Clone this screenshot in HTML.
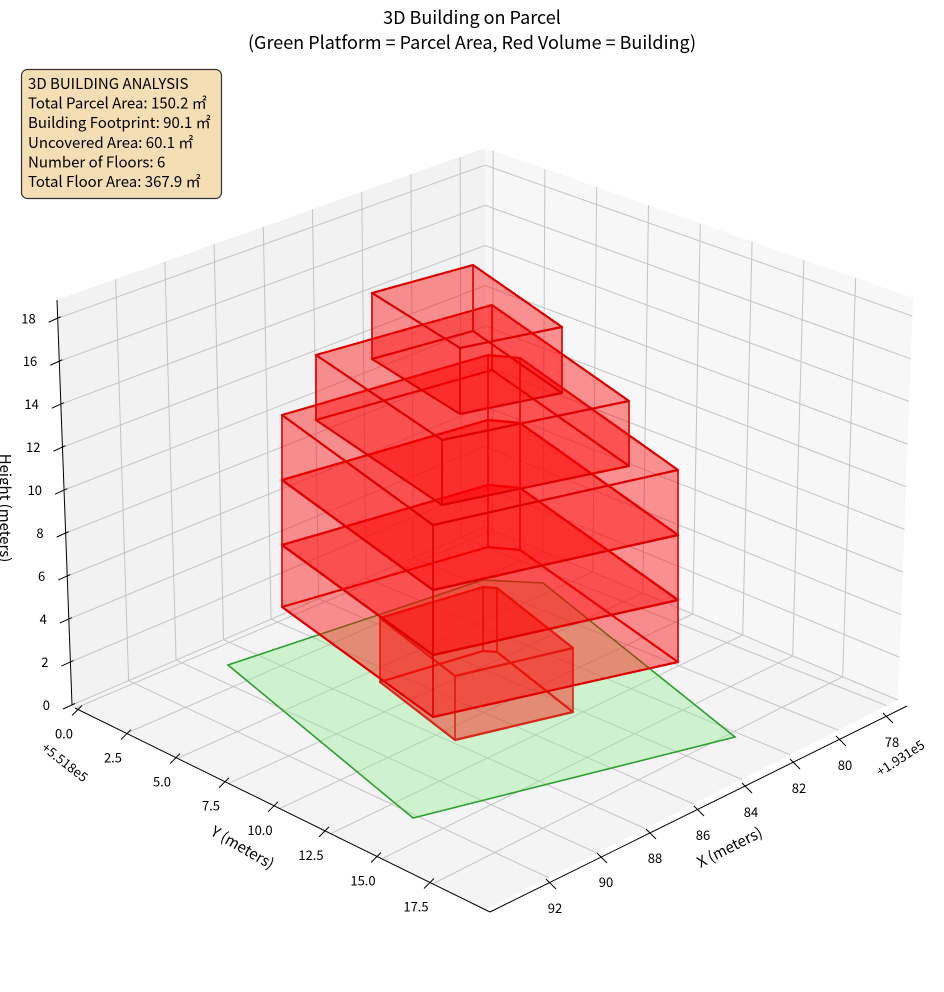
<!DOCTYPE html>
<html><head><meta charset="utf-8">
<style>
html,body{margin:0;padding:0;background:#fff;}
svg{display:block;font-family:"Noto Sans CJK JP","Liberation Sans",sans-serif;}
</style></head>
<body>
<svg id="c" width="944" height="992" viewBox="0 0 944 992" xmlns="http://www.w3.org/2000/svg">
<rect width="944" height="992" fill="#fff"/>
<g id="panes"></g>
<g id="grid" stroke="#c4c4c4" stroke-width="1" fill="none"></g>
<g id="axes" stroke="#000" stroke-width="1" fill="none"></g>
<g id="labels" font-size="13" fill="#000"></g>
<polygon points="228,665 483,580 543,583 735,737 413,818" fill="#90ee90" fill-opacity="0.38" stroke="#2ca02c" stroke-width="1.6"/>
<g id="bld"></g>
<text x="472" y="24" font-size="18" text-anchor="middle">3D Building on Parcel</text>
<text x="472" y="49" font-size="18" text-anchor="middle">(Green Platform = Parcel Area, Red Volume = Building)</text>
<rect x="21.5" y="69.5" width="200" height="129" rx="6" fill="#f5deb3" stroke="#333" stroke-width="1.2"/>
<g font-size="15" fill="#000">
<text x="28" y="89">3D BUILDING ANALYSIS</text>
<text x="28" y="108.6">Total Parcel Area: 150.2 ㎡</text>
<text x="28" y="128.2">Building Footprint: 90.1 ㎡</text>
<text x="28" y="147.8">Uncovered Area: 60.1 ㎡</text>
<text x="28" y="167.4">Number of Floors: 6</text>
<text x="28" y="187">Total Floor Area: 367.9 ㎡</text>
</g>
<text transform="translate(0,508) rotate(90)" font-size="15" text-anchor="middle">Height (meters)</text>
<text transform="translate(240,852) rotate(30)" font-size="15" text-anchor="middle">Y (meters)</text>
<text transform="translate(732,852) rotate(-27)" font-size="15" text-anchor="middle">X (meters)</text>
<text transform="translate(62,766) rotate(38)" font-size="13" text-anchor="middle">+5.518e5</text>
<text transform="translate(903,762) rotate(-33)" font-size="13" text-anchor="middle">+1.931e5</text>
</svg>
<script>
(function(){
var NS="http://www.w3.org/2000/svg";
var B=[485,527],L=[72,705],R=[898,700],F=[485,910];
function bil(b,r,l,f,s,t){return b*(1-s)*(1-t)+r*s*(1-t)+l*(1-s)*t+f*s*t;}
function P(s,t,h){
 var bx=bil(B[0],R[0],L[0],F[0],s,t), by=bil(B[1],R[1],L[1],F[1],s,t);
 var H=bil(379,402,405,430,s,t), dx=bil(0,15,-15,0,s,t);
 return [bx+h*dx, by-h*H];
}
function el(tag,attrs,parent,txt){var e=document.createElementNS(NS,tag);for(var k in attrs)e.setAttribute(k,attrs[k]);if(txt!=null)e.textContent=txt;parent.appendChild(e);return e;}
function pts(a){return a.map(function(p){return p[0].toFixed(1)+","+p[1].toFixed(1);}).join(" ");}
var panes=document.getElementById("panes"),grid=document.getElementById("grid"),axes=document.getElementById("axes"),labels=document.getElementById("labels");
el("polygon",{points:pts([P(0,0,0),P(0,1,0),P(0,1,1),P(0,0,1)]),fill:"#f2f2f2"},panes);
el("polygon",{points:pts([P(0,0,0),P(1,0,0),P(1,0,1),P(0,0,1)]),fill:"#f7f7f7"},panes);
el("polygon",{points:pts([P(0,0,0),P(0,1,0),P(1,1,0),P(1,0,0)]),fill:"#f4f4f4"},panes);
function tk(k,s){return (0.058+0.115*k)*(1-s)+(0.027+0.117*k)*s;}
function sk(k,t){return (0.019+0.121*k)*(1-t)+(0.012+0.123*k)*t;}
var i,k,a;
for(k=0;k<8;k++){
 a=[];for(i=0;i<=10;i++){var s=i/10;a.push(P(s,tk(k,s),0));}
 el("polyline",{points:pts(a)},grid);
 el("line",{x1:P(0,tk(k,0),0)[0],y1:P(0,tk(k,0),0)[1],x2:P(0,tk(k,0),1)[0],y2:P(0,tk(k,0),1)[1]},grid);
 a=[];for(i=0;i<=10;i++){var t=i/10;a.push(P(sk(k,t),t,0));}
 el("polyline",{points:pts(a)},grid);
 el("line",{x1:P(sk(k,0),0,0)[0],y1:P(sk(k,0),0,0)[1],x2:P(sk(k,0),0,1)[0],y2:P(sk(k,0),0,1)[1]},grid);
}
for(var z=0;z<=18;z+=2){
 var h=z/18.85;
 el("polyline",{points:pts([P(0,1,h),P(0,0,h),P(1,0,h)])},grid);
 var p=P(0,1,h);
 el("line",{x1:p[0]+3,y1:p[1]-1.5,x2:p[0]-9,y2:p[1]+4},axes);
 el("text",{x:p[0]-22,y:p[1]+5,"text-anchor":"end"},labels,String(z));
}
el("line",{x1:P(0,1,0)[0],y1:P(0,1,0)[1],x2:P(0,1,1)[0],y2:P(0,1,1)[1]},axes);
el("line",{x1:75,y1:708,x2:490,y2:912},axes);
var yx=[78,127,176,225,274,325,377,430],yl=["0.0","2.5","5.0","7.5","10.0","12.5","15.0","17.5"];
for(i=0;i<8;i++){var x=yx[i],y=708+(x-75)*0.4916;
 el("line",{x1:x+4,y1:y-4,x2:x-6,y2:y+6},axes);
 el("text",{x:x-14,y:y+29,"text-anchor":"middle"},labels,yl[i]);}
el("line",{x1:907,y1:706,x2:490,y2:912},axes);
var xx=[[887,717],[840,740],[794,763],[746,787],[698,810],[650,833],[601,857],[550,883]],xl=["78","80","82","84","86","88","90","92"];
for(i=0;i<8;i++){var q=xx[i];
 el("line",{x1:q[0]-4,y1:q[1]-4,x2:q[0]+6,y2:q[1]+6},axes);
 el("text",{x:q[0]+5,y:q[1]+30,"text-anchor":"middle"},labels,xl[i]);}
var bld=document.getElementById("bld");
function prism(top,dh,stroke){
 var bot=top.map(function(p){return [p[0],p[1]+dh];});
 var g=el("g",{fill:"#ff0000","fill-opacity":"0.24",stroke:stroke,"stroke-width":"2.2","stroke-linejoin":"round"},bld);
 el("polygon",{points:pts(bot)},g);
 for(var j=0;j<top.length;j++){var n=(j+1)%top.length;
  el("polygon",{points:pts([bot[j],bot[n],top[n],top[j]]),"stroke-width":"1.4"},g);}
 el("polygon",{points:pts(top)},g);
}
prism([[380,618],[483,587],[497,588],[573,648],[455,676]],64,"#d42a1a");
function big(y){return [[282,y],[488,y-60],[520,y-57],[678,y+55],[433,y+110]];}
prism(big(545),62,"#dd0000");
prism(big(480),65,"#dd0000");
prism(big(415),65,"#dd0000");
prism([[316,355],[492,305],[629,401],[442,440]],65,"#dd0000");
prism([[372,293],[473,265],[562,327],[460,348]],66,"#dd0000");
})();
</script>
</body></html>
